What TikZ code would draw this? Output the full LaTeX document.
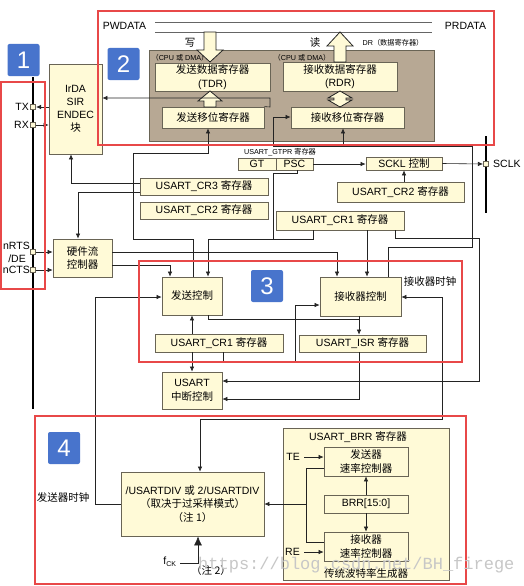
\documentclass[tikz,border=0pt]{standalone}
\usepackage{fontspec}
\setmainfont{Liberation Sans}
\newfontfamily\cjk{Noto Sans CJK SC}
\newfontfamily\wmfont{Liberation Mono}
\usetikzlibrary{arrows.meta}
\definecolor{boxfill}{RGB}{255,250,215}
\definecolor{boxline}{RGB}{105,100,85}
\definecolor{drfill}{RGB}{183,168,148}
\definecolor{redline}{RGB}{232,72,72}
\definecolor{badge}{RGB}{72,116,204}
\definecolor{wirec}{RGB}{35,35,35}
\tikzset{
  blk/.style={draw=boxline, fill=boxfill, line width=0.8pt, inner sep=0pt, align=center,
    font=\fontsize{10.5}{13.5}\selectfont},
  wire/.style={draw=wirec, line width=0.6pt},
  arr/.style={wire, -{Latex[length=5pt,width=4.5pt]}},
  arrtwo/.style={wire, {Latex[length=5pt,width=4.5pt]}-{Latex[length=5pt,width=4.5pt]}},
  redbox/.style={draw=redline, line width=2.4pt},
  badgebox/.style={fill=badge, rounded corners=2pt, text=white, minimum width=32pt, minimum height=32pt,
    inner sep=0pt, font=\fontsize{24}{24}\selectfont},
  pin/.style={draw=boxline, fill=boxfill, minimum size=5.5pt, inner sep=0pt, line width=0.6pt},
  lbl/.style={font=\fontsize{10.5}{12}\selectfont, inner sep=0pt},
  smalllbl/.style={font=\fontsize{7.2}{9}\selectfont, inner sep=0pt},
  hollow/.style={draw=wirec, fill=boxfill, line width=0.8pt, line join=miter},
  bus/.style={draw=black, line width=2pt},
}
\begin{document}
\begin{tikzpicture}[x=1pt,y=-1pt]
\useasboundingbox (0,0) rectangle (523,586);
\fill[white] (0,0) rectangle (523,586);

% ---------- top bus ----------
\node[lbl] (pwdata) at (124.5,26) {PWDATA};
\node[lbl] (prdata) at (465.5,26) {PRDATA};
\draw[wirec!70, line width=0.6pt] (155,22) -- (432,22);
\draw[wirec!70, line width=0.6pt] (155,32) -- (432,32);

% ---------- DR block ----------
\node[draw=boxline, fill=drfill, line width=0.8pt, minimum width=285pt, minimum height=91pt, inner sep=0pt] (dr) at (291.5,95.5) {};
\node[smalllbl] (cpuL) at (180,58) {{\cjk （}CPU {\cjk 或} DMA{\cjk ）}};
\node[smalllbl] (cpuR) at (302,58) {{\cjk （}CPU {\cjk 或} DMA{\cjk ）}};
\node[smalllbl] (drlbl) at (393,43) {DR{\cjk （数据寄存器）}};
\node[lbl] (wlbl) at (190,43) {\cjk 写};
\node[lbl] (rlbl) at (315,43) {\cjk 读};

\node[blk, minimum width=115pt, minimum height=28pt] (tdr) at (212.5,77) {{\cjk 发送数据寄存器}\\(TDR)};
\node[blk, minimum width=114pt, minimum height=29pt] (rdr) at (340,76.5) {{\cjk 接收数据寄存器}\\(RDR)};
\node[blk, minimum width=102pt, minimum height=21pt] (txs) at (213,117.5) {\cjk 发送移位寄存器};
\node[blk, minimum width=113pt, minimum height=21pt] (rxs) at (347.5,117.5) {\cjk 接收移位寄存器};

% hollow arrows
\draw[hollow] (204,32) -- (204,50) -- (197,50) -- (210,62) -- (223,50) -- (216,50) -- (216,32) -- cycle;
\draw[hollow] (204,107) -- (204,101) -- (198,101) -- (210,91) -- (222,101) -- (216,101) -- (216,107) -- cycle;
\draw[hollow] (334,62) -- (334,46) -- (327,46) -- (340,32) -- (353,46) -- (346,46) -- (346,62) -- cycle;
\draw[hollow] (340,91) -- (352,98) -- (346,98) -- (346,100) -- (352,100) -- (340,107) -- (328,100) -- (334,100) -- (334,98) -- (328,98) -- cycle;

% ---------- IrDA & pins ----------
\node[blk, minimum width=53pt, minimum height=90pt, font=\fontsize{10.5}{13}\selectfont] (irda) at (75.5,109) {IrDA\\SIR\\ENDEC\\{\cjk 块}};
\draw[bus] (33,77) -- (33,409);
\node[pin] (txpin) at (33,107) {};
\node[pin] (rxpin) at (33,125) {};
\node[pin] (rtspin) at (33,252) {};
\node[pin] (ctspin) at (33,270) {};
\node[lbl, anchor=east] (txl) at (29,107) {TX};
\node[lbl, anchor=east] (rxl) at (29,125) {RX};
\node[lbl, anchor=east] (rtsl) at (30,246) {nRTS};
\node[lbl, anchor=east] (del) at (26,259) {/DE};
\node[lbl, anchor=east] (ctsl) at (30,270) {nCTS};

\draw[arr] (txpin -| irda.west) -- (txpin.east);
\draw[arr] (rxpin.east) -- (rxpin -| irda.west);

% ---------- SCLK ----------
\draw[bus] (486,136) -- (486,213);
\node[pin] (sclkpin) at (486,164) {};
\node[lbl, anchor=west] (sclkl) at (493,164) {SCLK};

% ---------- registers middle ----------
\node[smalllbl] (gtprl) at (280,152) {USART\_GTPR {\cjk 寄存器}};
\node[blk, minimum width=38pt, minimum height=12pt] (gt) at (257,164) {GT};
\node[blk, minimum width=37pt, minimum height=12pt] (psc) at (294.5,164) {PSC};
\node[blk, minimum width=76pt, minimum height=13pt] (sckl) at (404,163.5) {SCKL {\cjk 控制}};
\node[blk, minimum width=127pt, minimum height=20pt] (cr2r) at (400.5,192) {USART\_CR2 {\cjk 寄存器}};
\node[blk, minimum width=128pt, minimum height=17pt] (cr3) at (204,186.5) {USART\_CR3 {\cjk 寄存器}};
\node[blk, minimum width=128pt, minimum height=17pt] (cr2l) at (204,210.5) {USART\_CR2 {\cjk 寄存器}};
\node[blk, minimum width=128pt, minimum height=19pt] (cr1u) at (340,220.5) {USART\_CR1 {\cjk 寄存器}};
\node[blk, minimum width=59pt, minimum height=38pt] (hw) at (82.5,258) {{\cjk 硬件流}\\{\cjk 控制器}};

% ---------- control ----------
\node[blk, minimum width=60pt, minimum height=38pt] (txc) at (192,296) {\cjk 发送控制};
\node[blk, minimum width=81pt, minimum height=39pt] (rxc) at (360.5,296.5) {\cjk 接收器控制};
\node[blk, minimum width=128pt, minimum height=18pt] (cr1l) at (219,343) {USART\_CR1 {\cjk 寄存器}};
\node[blk, minimum width=127pt, minimum height=17pt] (isr) at (362.5,343.5) {USART\_ISR {\cjk 寄存器}};
\node[blk, minimum width=60pt, minimum height=37pt] (intc) at (192,390.5) {USART\\{\cjk 中断控制}};
\node[lbl] (rxclk) at (430,282) {\cjk 接收器时钟};

% ---------- baud ----------
\node[blk, minimum width=143pt, minimum height=64pt] (div) at (192.5,504) {/USARTDIV {\cjk 或} 2/USARTDIV\\{\cjk （取决于过采样模式）}\\{\cjk （注 1）}};
\node[blk, minimum width=166pt, minimum height=152pt] (brr) at (366,504) {};
\node[lbl] (brrt) at (358,437) {USART\_BRR {\cjk 寄存器}};
\node[lbl] (brrb) at (366,574) {\cjk 传统波特率生成器};
\node[blk, minimum width=84pt, minimum height=29pt] (txr) at (366,461.5) {{\cjk 发送器}\\{\cjk 速率控制器}};
\node[blk, minimum width=84pt, minimum height=18pt] (brrf) at (366,504) {BRR[15:0]};
\node[blk, minimum width=84pt, minimum height=29pt] (rxr) at (366,546.5) {{\cjk 接收器}\\{\cjk 速率控制器}};
\node[lbl, anchor=east] (tel) at (300,457) {TE};
\node[lbl, anchor=east] (rel) at (300,552) {RE};
\node[lbl] (txclk) at (63,497) {\cjk 发送器时钟};
\node[lbl] (fck) at (170,562) {f\textsubscript{\fontsize{7}{7}\selectfont CK}};
\node[lbl] (note2) at (211,571) {\cjk （注 2）};

% ---------- wires ----------
\draw[arr] (txs.north east) -- (270,107) -- (270,98) -- (irda.east |- 0,98);
\draw[arr] (rxc.north -| 388,0) -- (388,247) -- (472,247) -- (472,146) -- (343,146) -- (rxs.south -| 343,0);
\draw[arr] (343,146) -- (273,146) -- (273,117) -- (rxs.west |- 0,117);

\draw[arr] (txc.north -| 193,0) -- (193,239) -- (133,239) -- (133,153) -- (208,153) -- (txs.south -| 208,0);
\draw[arr] (psc.south -| 297,0) -- (297,173) -- (273,173) -- (273,239) -- (208,239) -- (txc.north -| 208,0);
\draw[wire] (cr1u.south -| 313,0) -- (313,239) -- (273,239);
\draw[arr] (cr1u.south -| 367,0) -- (rxc.north -| 367,0);
\draw[arr] (cr1u.south -| 395,0) -- (395,238) -- (479,238) -- (479,381) -- (intc.east |- 0,381);
\draw[arr] (hw.east |- 0,252) -- (337,252) -- (rxc.north -| 337,0);
\draw[arr] (hw.east |- 0,265) -- (170,265) -- (txc.north -| 170,0);
\draw[arr] (cr3.west |- 0,183) -- (71,183) -- (irda.south -| 71,0);
\draw[arr] (cr3.west |- 0,192) -- (78,192) -- (hw.north -| 78,0);
\draw[arr] (rtspin.east) -- (rtspin -| hw.west);
\draw[arr] (ctspin.east) -- (ctspin -| hw.west);
\draw[arr] (psc.east) -- (sckl.west |- psc.east);
\draw[arr] (sckl.east) -- (sclkpin.west);
\draw[arr] (cr2r.north -| sckl.south) -- (sckl.south);

\draw[arr] (div.west) -- (95,504) -- (95,297) -- (txc.west |- 0,297);
\draw[arr] (cr1l.north -| txc.south) -- (txc.south);
\draw[arr] (cr1l.south -| intc.north) -- (intc.north);
\draw[arr] (cr1l.south -| 223,0) -- (223,362) -- (295,362) -- (295,305) -- (rxc.west |- 0,305);
\draw[wire] (txc.south -| 208,0) -- (208,319) -- (359,319);
\draw[arr] (rxc.south -| 359,0) -- (isr.north -| 359,0);
\draw[arr] (isr.south -| 359,0) -- (359,399) -- (intc.east |- 0,399);
\draw[arrtwo] (div.north -| 200,0) -- (200,419) -- (442,419) -- (442,297) -- (rxc.east |- 0,297);

\draw[wire] (txr.west |- 0,468) -- (306,468) -- (306,542) -- (rxr.west |- 0,542);
\draw[arr] (306,504) -- (div.east);
\draw[arr] ([xshift=4pt]tel.east) -- (txr.west |- tel.east);
\draw[arr] ([xshift=4pt]rel.east) -- (rxr.west |- rel.east);
\draw[arr] (brrf.north) -- (txr.south);
\draw[arr] (brrf.south) -- (rxr.north);
\draw[wire, -{Latex[length=9pt,width=8pt]}] (180,563) -- (198,563) -- (div.south -| 198,0);

% ---------- red frames & badges ----------
\draw[redbox] (1,82) rectangle (45,289);
\draw[redbox] (98,11) rectangle (494,145);
\draw[redbox] (139,261) rectangle (462,362);
\draw[redbox] (35,416) rectangle (466,584);
\node[badgebox] (b1) at (23.5,60) {1};
\node[badgebox] (b2) at (123.5,64) {2};
\node[badgebox] (b3) at (267,286) {3};
\node[badgebox] (b4) at (64,448) {4};

% watermark
\node[anchor=west, inner sep=0pt, text=black!22, font=\wmfont\fontsize{17}{17}\selectfont] (wm) at (198,565) {https://blog.csdn.net/BH\_firege};
\end{tikzpicture}
\end{document}
